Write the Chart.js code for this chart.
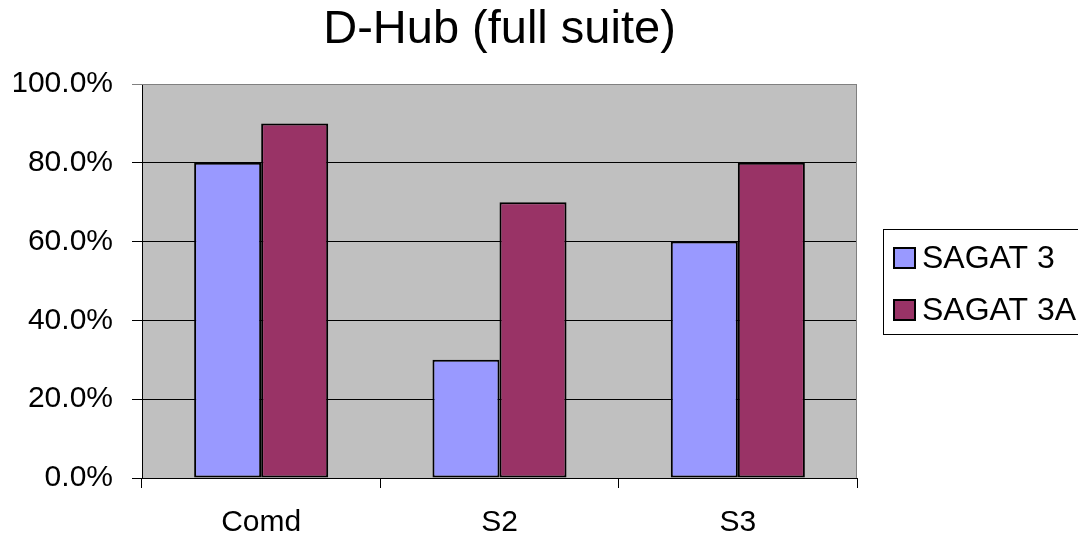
<!DOCTYPE html>
<html lang="en">
<head>
    <meta charset="UTF-8">
    <title>D-Hub (full suite)</title>
    <script src="https://cdn.jsdelivr.net/npm/chart.js"></script>
    <style>
        html, body {
            margin: 0;
            padding: 0;
            background: #ffffff;
        }
        #chartContainer {
            width: 1078px;
            height: 538px;
        }
    </style>
</head>
<body>
    <div id="chartContainer">
        <canvas id="dhubChart"></canvas>
    </div>
    <script>
        const categories = ['Comd', 'S2', 'S3'];
        const seriesNames = ['SAGAT 3', 'SAGAT 3A'];
        const sagat3 = [0.80, 0.30, 0.60];
        const sagat3A = [0.90, 0.70, 0.80];
        const seriesColors = ['#9999FF', '#993366'];

        const FONT = '"Liberation Sans", Arial, sans-serif';

        // grey plot area + grey top/right border, like the old Excel chart
        const plotArea = {
            id: 'plotArea',
            beforeDraw(chart) {
                const a = chart.chartArea;
                const c = chart.ctx;
                c.save();
                c.fillStyle = '#C0C0C0';
                c.fillRect(a.left, a.top, a.right - a.left, a.bottom - a.top);
                c.restore();
            },
            afterDraw(chart) {
                const a = chart.chartArea;
                const c = chart.ctx;
                c.save();
                c.strokeStyle = '#808080';
                c.lineWidth = 1;
                c.beginPath();
                c.moveTo(a.left, a.top + 0.5);
                c.lineTo(a.right - 0.5, a.top + 0.5);
                c.lineTo(a.right - 0.5, a.bottom);
                c.stroke();
                c.restore();
            }
        };

        // boxed legend on the right
        const boxLegend = {
            id: 'boxLegend',
            afterDraw(chart) {
                const c = chart.ctx;
                c.save();
                c.strokeStyle = '#000000';
                c.lineWidth = 1;
                c.strokeRect(883.5, 229.5, 300, 105);
                c.font = '32px ' + FONT;
                c.textBaseline = 'middle';
                c.textAlign = 'left';
                chart.data.datasets.forEach((ds, i) => {
                    const y = 258 + i * 52;
                    c.fillStyle = ds.backgroundColor;
                    c.fillRect(894, y - 10, 21, 20);
                    c.strokeStyle = '#000000';
                    c.lineWidth = 2;
                    c.strokeRect(894, y - 10, 21, 20);
                    c.fillStyle = '#000000';
                    c.fillText(ds.label, 922, y + 1);
                });
                c.restore();
            }
        };

        const ctx = document.getElementById('dhubChart').getContext('2d');
        const dhubChart = new Chart(ctx, {
            type: 'bar',
            data: {
                labels: categories,
                datasets: [
                    {
                        label: seriesNames[0],
                        data: sagat3,
                        backgroundColor: seriesColors[0],
                        borderColor: '#000000',
                        borderWidth: 2,
                        borderSkipped: false
                    },
                    {
                        label: seriesNames[1],
                        data: sagat3A,
                        backgroundColor: seriesColors[1],
                        borderColor: '#000000',
                        borderWidth: 2,
                        borderSkipped: false
                    }
                ]
            },
            options: {
                responsive: true,
                maintainAspectRatio: false,
                animation: false,
                devicePixelRatio: 1,
                layout: {
                    padding: { left: 14, right: 221, top: 0, bottom: 0 }
                },
                datasets: {
                    bar: {
                        categoryPercentage: 0.5625,
                        barPercentage: 1.0
                    }
                },
                plugins: {
                    legend: { display: false },
                    tooltip: { enabled: false },
                    title: {
                        display: true,
                        fullSize: false,
                        text: 'D-Hub (full suite)',
                        color: '#000000',
                        font: { family: FONT, size: 47, weight: 'normal', lineHeight: 1.2 },
                        padding: { top: 2, bottom: 25.6 }
                    }
                },
                scales: {
                    x: {
                        offset: true,
                        afterFit: (scale) => { scale.height = 60; },
                        grid: {
                            offset: true,
                            drawOnChartArea: false,
                            drawTicks: true,
                            tickLength: 10,
                            color: '#000000'
                        },
                        border: { color: '#000000', width: 1 },
                        ticks: {
                            color: '#000000',
                            padding: 18,
                            font: { family: FONT, size: 30, lineHeight: 1.1 }
                        }
                    },
                    y: {
                        min: 0,
                        max: 1,
                        afterFit: (scale) => { scale.width = 128; },
                        grid: {
                            color: (c) => (c.tick && c.tick.value === 1 ? '#808080' : '#000000'),
                            lineWidth: 1,
                            drawTicks: true,
                            tickLength: 10
                        },
                        border: { color: '#000000', width: 1 },
                        ticks: {
                            stepSize: 0.2,
                            color: '#000000',
                            padding: 19,
                            font: { family: FONT, size: 30 },
                            callback: (v) => (v * 100).toFixed(1) + '%'
                        }
                    }
                }
            },
            plugins: [plotArea, boxLegend]
        });
    </script>
</body>
</html>
